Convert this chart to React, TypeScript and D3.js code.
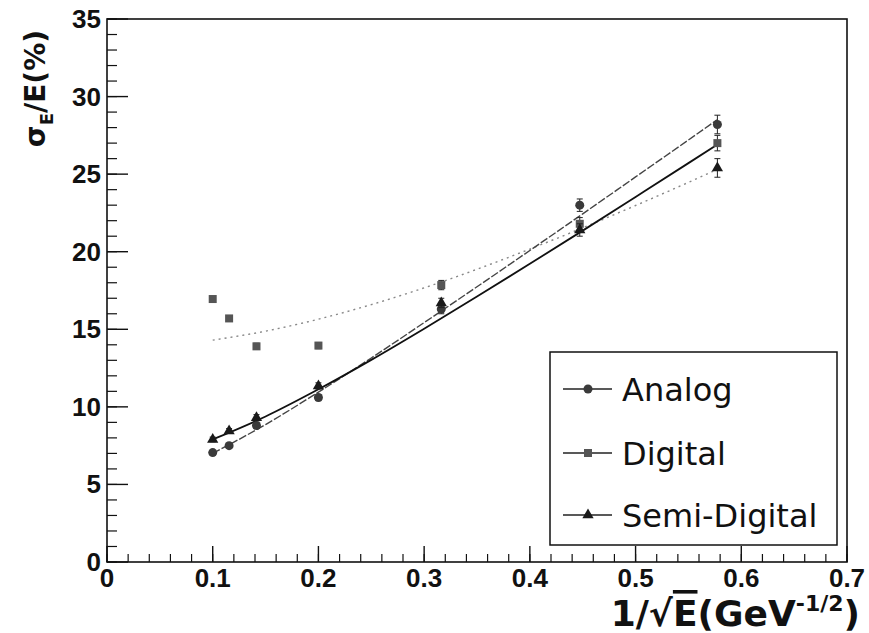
import React from 'react';
import * as d3 from 'd3';

// 1/sqrt(E) for E = 100, 75, 50, 25, 10, 5, 3 GeV
const invSqrtE = [0.1, 0.1155, 0.1414, 0.2, 0.3162, 0.4472, 0.5774];
const analogRes = [7.05, 7.5, 8.8, 10.6, 16.3, 23.0, 28.2];
const analogErr = [0.15, 0.15, 0.2, 0.2, 0.3, 0.4, 0.6];
const digitalRes = [16.95, 15.7, 13.9, 13.95, 17.85, 21.8, 27.0];
const digitalErr = [0.15, 0.15, 0.2, 0.2, 0.3, 0.4, 0.5];
const semiRes = [7.9, 8.45, 9.3, 11.35, 16.7, 21.4, 25.4];
const semiErr = [0.15, 0.15, 0.2, 0.2, 0.3, 0.4, 0.6];

// fitted curves
const fitX = [0.1, 0.15, 0.2, 0.25, 0.3, 0.35, 0.4, 0.45, 0.5, 0.55, 0.577];
const analogFit = [7.0, 8.86, 10.95, 13.15, 15.43, 17.74, 20.08, 22.44, 24.82, 27.2, 28.5];
const digitalFit = [14.3, 14.88, 15.65, 16.59, 17.67, 18.87, 20.17, 21.54, 22.98, 24.47, 25.3];
const semiFit = [7.9, 9.38, 11.13, 13.03, 15.04, 17.11, 19.22, 21.36, 23.53, 25.71, 26.9];

const xTicks = [0, 0.1, 0.2, 0.3, 0.4, 0.5, 0.6, 0.7];
const yTicks = [0, 5, 10, 15, 20, 25, 30, 35];
const legendNames = ['Analog', 'Digital', 'Semi-Digital'];

const W = 869;
const H = 633;
const left = 107, right = 847, top = 19, bottom = 562;

const x = d3.scaleLinear().domain([0, 0.7]).range([left, right]);
const y = d3.scaleLinear().domain([0, 35]).range([bottom, top]);

const fitLine = d3.line<[number, number]>()
  .x(d => x(d[0]))
  .y(d => y(d[1]))
  .curve(d3.curveMonotoneX);

const tickFont = '"Liberation Sans", Arial, sans-serif';
const titleFont = '"DejaVu Sans", sans-serif';

const Marker = ({ kind, cx, cy }: { kind: string; cx: number; cy: number }) => {
  if (kind === 'circle') return <circle cx={cx} cy={cy} r={4.5} fill="#3a3a3a" />;
  if (kind === 'square') return <rect x={cx - 4} y={cy - 4} width={8} height={8} fill="#555" />;
  const tri = d3.symbol().type(d3.symbolTriangle).size(55)();
  return <path d={tri || ''} transform={`translate(${cx},${cy})`} fill="#1a1a1a" />;
};

const Series = ({ vals, errs, kind }: { vals: number[]; errs: number[]; kind: string }) => (
  <g>
    {vals.map((v, i) => {
      const cx = x(invSqrtE[i]);
      return (
        <g key={i}>
          <line x1={cx} x2={cx} y1={y(v - errs[i])} y2={y(v + errs[i])} stroke="#222" strokeWidth={1} />
          <line x1={cx - 3} x2={cx + 3} y1={y(v + errs[i])} y2={y(v + errs[i])} stroke="#222" strokeWidth={1} />
          <line x1={cx - 3} x2={cx + 3} y1={y(v - errs[i])} y2={y(v - errs[i])} stroke="#222" strokeWidth={1} />
          <Marker kind={kind} cx={cx} cy={y(v)} />
        </g>
      );
    })}
  </g>
);

export default function App() {
  const xMinor = x.ticks(35);
  const yMinor = y.ticks(35);
  const pts = (ys: number[]) => fitX.map((fx, i) => [fx, ys[i]] as [number, number]);
  const legendRows = [389, 453, 515];
  const kinds = ['circle', 'square', 'triangle'];

  return (
    <svg width={W} height={H} style={{ position: 'absolute', left: 0, top: 0, background: '#fff' }}>
      {/* fits */}
      <path d={fitLine(pts(digitalFit)) || ''} fill="none" stroke="#888" strokeWidth={1.4} strokeDasharray="2,4" />
      <path d={fitLine(pts(analogFit)) || ''} fill="none" stroke="#444" strokeWidth={1.4} strokeDasharray="8,2" />
      <path d={fitLine(pts(semiFit)) || ''} fill="none" stroke="#111" strokeWidth={1.8} />

      <Series vals={digitalRes} errs={digitalErr} kind="square" />
      <Series vals={analogRes} errs={analogErr} kind="circle" />
      <Series vals={semiRes} errs={semiErr} kind="triangle" />

      {/* frame */}
      <rect x={left} y={top} width={right - left} height={bottom - top} fill="none" stroke="#111" strokeWidth={1.6} />

      {/* x ticks */}
      {xMinor.map((t, i) => (
        <line key={'xm' + i} x1={x(t)} x2={x(t)} y1={bottom} y2={bottom - 8} stroke="#111" strokeWidth={1.2} />
      ))}
      {xTicks.map(t => (
        <g key={'x' + t}>
          <line x1={x(t)} x2={x(t)} y1={bottom} y2={bottom - 16} stroke="#111" strokeWidth={1.4} />
          <text x={x(t)} y={587} textAnchor="middle" fontFamily={tickFont} fontWeight="bold" fontSize={26} fill="#111">
            {t === 0 ? '0' : t.toFixed(1)}
          </text>
        </g>
      ))}

      {/* y ticks */}
      {yMinor.map((t, i) => (
        <line key={'ym' + i} x1={left} x2={left + 10} y1={y(t)} y2={y(t)} stroke="#111" strokeWidth={1.2} />
      ))}
      {yTicks.map(t => (
        <g key={'y' + t}>
          <line x1={left} x2={left + 21} y1={y(t)} y2={y(t)} stroke="#111" strokeWidth={1.4} />
          <text x={101} y={y(t) + 9} textAnchor="end" fontFamily={tickFont} fontWeight="bold" fontSize={26} fill="#111">
            {t}
          </text>
        </g>
      ))}

      {/* axis titles */}
      <text x={860} y={626} textAnchor="end" fontFamily={titleFont} fontWeight="bold" fontSize={36} fill="#111">
        1/√<tspan textDecoration="overline">E</tspan>(GeV
        <tspan fontSize={22} dy={-15}>-1/2</tspan>
        <tspan dy={15}>)</tspan>
      </text>
      <text transform="translate(45,30) rotate(-90)" textAnchor="end" fontFamily={titleFont} fontWeight="bold" fontSize={28} fill="#111">
        σ<tspan fontSize={18} dy={8}>E</tspan>
        <tspan dy={-8}>/E(%)</tspan>
      </text>

      {/* legend */}
      <rect x={550} y={352} width={287} height={193} fill="#fff" stroke="#111" strokeWidth={1.5} />
      {legendNames.map((name, i) => (
        <g key={name}>
          <line x1={563} x2={612} y1={legendRows[i]} y2={legendRows[i]} stroke="#222" strokeWidth={1.3} />
          <Marker kind={kinds[i]} cx={588} cy={legendRows[i]} />
          <text x={622} y={legendRows[i] + 12} fontFamily={titleFont} fontSize={32} fill="#111">
            {name}
          </text>
        </g>
      ))}
    </svg>
  );
}
